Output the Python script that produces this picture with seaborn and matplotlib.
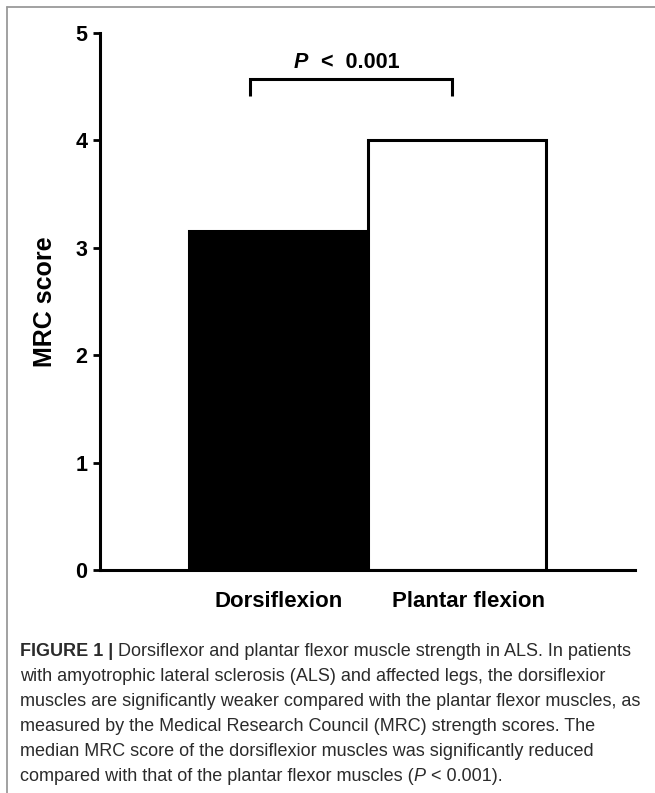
import matplotlib
matplotlib.use("Agg")
import matplotlib.pyplot as plt
import seaborn as sns
import pandas as pd
from matplotlib.lines import Line2D
from matplotlib.transforms import ScaledTranslation

# ---- data ----
categories = ["Dorsiflexion", "Plantar flexion"]
mrc_scores = [3.16, 4.0]
bar_colors = ["black", "white"]
y_ticks = [0, 1, 2, 3, 4, 5]
y_label = "MRC score"
p_text = "<  0.001"
caption_lines = [
    "Dorsiflexor and plantar flexor muscle strength in ALS. In patients",
    "with amyotrophic lateral sclerosis (ALS) and affected legs, the dorsiflexior",
    "muscles are significantly weaker compared with the plantar flexor muscles, as",
    "measured by the Medical Research Council (MRC) strength scores. The",
    "median MRC score of the dorsiflexior muscles was significantly reduced",
    "compared with that of the plantar flexor muscles (",
]

sns.set_style("white")
plt.rcParams["font.family"] = ["Liberation Sans", "DejaVu Sans"]
plt.rcParams["text.color"] = "black"
plt.rcParams["axes.labelcolor"] = "black"
plt.rcParams["xtick.color"] = "black"
plt.rcParams["ytick.color"] = "black"

W, H = 655, 793
fig = plt.figure(figsize=(W / 100, H / 100), dpi=100)
ax = fig.add_axes([100 / W, 1 - 570 / H, 535 / W, 537 / H])

df = pd.DataFrame({"cat": categories, "score": mrc_scores})
sns.barplot(data=df, x="cat", y="score", hue="cat", palette=bar_colors,
            edgecolor="black", linewidth=2.2, width=1.0, ax=ax, legend=False)

ax.set_xlim(-1.0, 2.0)
ax.set_ylim(0, 5)
ax.set_yticks(y_ticks)
ax.set_xlabel("")
for s in ["top", "right"]:
    ax.spines[s].set_visible(False)
for s in ["left", "bottom"]:
    ax.spines[s].set_linewidth(2.2)
    ax.spines[s].set_color("black")

ax.tick_params(axis="y", direction="out", length=5, width=2, pad=4,
               labelsize=15.5, left=True, colors="black")
ax.tick_params(axis="x", length=0, pad=15, labelsize=16, colors="black")
for lab in ax.get_yticklabels():
    lab.set_fontweight("bold")
for lab in ax.get_xticklabels():
    lab.set_fontweight("bold")
xl = ax.get_xticklabels()
xl[1].set_transform(xl[1].get_transform() + ScaledTranslation(0.12, 0, fig.dpi_scale_trans))

ax.set_ylabel(y_label, fontsize=18, fontweight="bold", color="black")
ax.yaxis.set_label_coords(-55 / 535, 0.5)
ax.yaxis.label.set_va("center")

# significance bracket
ax.plot([-0.16, -0.16, 0.975, 0.975], [4.41, 4.57, 4.57, 4.41],
        color="black", lw=2.2, solid_capstyle="butt", solid_joinstyle="miter",
        clip_on=False)
ax.text(0.165, 4.67, "P", ha="right", va="baseline", fontsize=15.5,
        fontweight="bold", fontstyle="italic", color="black")
ax.text(0.24, 4.67, p_text, ha="left", va="baseline", fontsize=15.5,
        fontweight="bold", color="black")

# frame lines
fig.add_artist(Line2D([7 / W, 7 / W], [0, 1 - 7 / H], color="#9a9a9a", lw=1.3))
fig.add_artist(Line2D([7 / W, 1], [1 - 7 / H, 1 - 7 / H], color="#9a9a9a", lw=1.3))

# caption
cap_color = "#2b2b2b"
cap_size = 13
x0 = 20 / W
base0 = 656
step = 25
renderer = fig.canvas.get_renderer()
for i, line in enumerate(caption_lines):
    yb = 1 - (base0 + i * step) / H
    x = x0
    if i == 0:
        t = fig.text(x, yb, "FIGURE 1 | ", fontsize=cap_size, fontweight="bold",
                     color=cap_color, va="baseline")
        x += t.get_window_extent(renderer).width / W
    t = fig.text(x, yb, line, fontsize=cap_size, color=cap_color, va="baseline")
    if i == len(caption_lines) - 1:
        x += t.get_window_extent(renderer).width / W
        t = fig.text(x, yb, "P", fontsize=cap_size, fontstyle="italic",
                     color=cap_color, va="baseline")
        x += t.get_window_extent(renderer).width / W
        fig.text(x, yb, " < 0.001).", fontsize=cap_size, color=cap_color,
                 va="baseline")

fig.savefig("out.png", dpi=100)
